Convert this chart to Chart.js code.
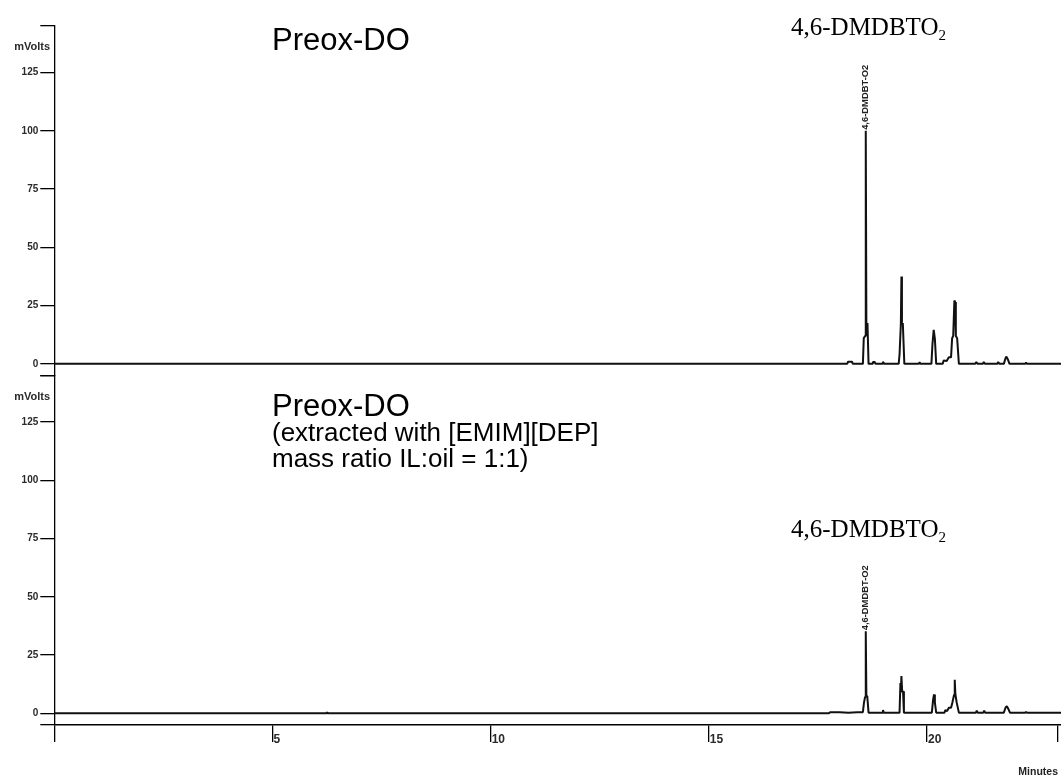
<!DOCTYPE html>
<html>
<head>
<meta charset="utf-8">
<script src="https://cdn.jsdelivr.net/npm/chart.js@4"></script>
<style>
  html, body { margin: 0; padding: 0; background: #fff; }
  #wrap { position: relative; width: 1061px; height: 776px; }
  .t { position: absolute; white-space: nowrap; color: #000; }
  .sans { font-family: "Liberation Sans", Arial, sans-serif; }
  .serif { font-family: "Liberation Serif", "Times New Roman", serif; }
  sub { font-size: 15px; vertical-align: -5px; line-height: 0; }
</style>
</head>
<body>
<div id="wrap">
  <canvas id="c"></canvas>
  <div class="t sans" style="left:272px;top:22px;font-size:31px;">Preox-DO</div>
  <div class="t sans" style="left:272px;top:389px;font-size:31px;line-height:34px;">Preox-DO</div>
  <div class="t sans" style="left:272px;top:419px;font-size:26px;line-height:26.3px;">(extracted with [EMIM][DEP]<br>mass ratio IL:oil = 1:1)</div>
  <div class="t serif" style="left:791px;top:14px;font-size:25px;line-height:25px;">4,6-DMDBTO<sub>2</sub></div>
  <div class="t serif" style="left:791px;top:516px;font-size:25px;line-height:25px;">4,6-DMDBTO<sub>2</sub></div>
  <div class="t sans" style="right:3px;top:765px;font-size:10.5px;font-weight:bold;color:#222;">Minutes</div>
</div>
<script>
// ---- data (retention time in minutes, signal in mVolts) ----
const topTimes  = [0, 18.17, 18.19, 18.28, 18.30, 18.53, 18.55, 18.58, 18.596, 18.61, 18.635, 18.66,
  18.74, 18.76, 18.80, 18.82, 18.97, 18.99, 19.02, 19.35, 19.37, 19.40, 19.413, 19.425, 19.445, 19.48,
  19.81, 19.83, 19.85, 20.10, 20.125, 20.153, 20.18, 20.21, 20.36, 20.38, 20.45, 20.50, 20.55,
  20.575, 20.60, 20.627, 20.645, 20.66, 20.69, 20.73, 21.10, 21.13, 21.16, 21.28, 21.30, 21.33,
  21.61, 21.63, 21.66, 21.76, 21.80, 21.82, 21.85, 21.89, 22.25, 22.27, 22.29, 23.07];
const topValues = [0, 0, 0.9, 0.9, 0, 0, 11, 12, 100, 16, 17.5, 0,
  0, 0.8, 0.8, 0, 0, 0.9, 0, 0, 4, 17, 37.5, 17, 17.5, 0,
  0, 0.7, 0, 0, 8.6, 14.6, 10.7, 0, 0, 1.4, 1.2, 2.8, 2.8,
  11, 12, 27.2, 26.5, 12, 11, 0, 0, 0.8, 0, 0, 0.8, 0,
  0, 0.8, 0, 0, 2.5, 3.1, 2, 0, 0, 0.5, 0, 0];

const botTimes  = [0, 6.24, 6.25, 6.26, 17.75, 17.78, 18.0, 18.2, 18.4, 18.53, 18.555, 18.58, 18.596, 18.61, 18.63, 18.66,
  18.98, 18.99, 19.01, 19.37, 19.39, 19.40, 19.413, 19.43, 19.45, 19.47,
  20.11, 20.14, 20.16, 20.18, 20.21, 20.40, 20.42, 20.46, 20.50, 20.55, 20.58, 20.62, 20.635, 20.65, 20.68, 20.73,
  21.12, 21.14, 21.16, 21.29, 21.31, 21.33, 21.76, 21.80, 21.83, 21.86, 21.90, 22.25, 22.27, 22.29, 23.07];
const botValues = [0, 0, 0.6, 0, 0, 0.5, 0.5, 0.3, 0.5, 0.5, 4.6, 7, 35.2, 7.4, 7.4, 0.3,
  0.3, 1.4, 0.3, 0.3, 13, 9, 16, 9.5, 9.5, 0.3,
  0.3, 6, 8.1, 4.6, 0.3, 0.3, 1.4, 1, 2.4, 2.4, 4.6, 8, 14.4, 8.1, 4.6, 0.3,
  0.3, 1.2, 0.3, 0.3, 1.2, 0.3, 0.3, 2.5, 3.1, 2, 0.3, 0.3, 0.6, 0.3, 0.3];

const yTickValues = [0, 25, 50, 75, 100, 125];
const xTickValues = [0, 5, 10, 15, 20, 23];
const xLabelValues = [5, 10, 15, 20];
const peakLabel = "4,6-DMDBT-O2";
const yMin = -5, yMax = 145, xMin = 0, xMax = 23.07;

const toPoints = (ts, vs) => ts.map((t, i) => ({x: t, y: vs[i]}));

const tickFont = {family: "Liberation Sans", size: 10, weight: "bold"};

function yScale() {
  return {
    type: 'linear', position: 'left', stack: 'panels', stackWeight: 1,
    min: yMin, max: yMax,
    afterBuildTicks: s => { s.ticks = [yMin, ...yTickValues, yMax].map(v => ({value: v})); },
    afterFit: s => { s.width = 54.3; },
    ticks: {
      autoSkip: false, color: '#2a2a2a', font: tickFont, padding: 2,
      callback: v => yTickValues.includes(v) ? String(v) : ''
    },
    grid: {drawOnChartArea: false, drawTicks: true, tickLength: 14, color: '#000', lineWidth: 1.3},
    border: {display: true, color: '#000', width: 1.3}
  };
}

const annot = {
  id: 'annot',
  afterDatasetsDraw(chart) {
    const ctx = chart.ctx;
    ctx.save();
    ctx.font = "bold 11px 'Liberation Sans'";
    ctx.fillStyle = '#2a2a2a';
    ctx.textAlign = 'right';
    ctx.textBaseline = 'middle';
    ['yTop', 'yBot'].forEach(id => {
      const s = chart.scales[id];
      ctx.fillText('mVolts', 50, s.top + 21);
    });
    chart.data.datasets.forEach(ds => {
      let best = 0;
      ds.data.forEach((p, i) => { if (p.y > ds.data[best].y) best = i; });
      const xs = chart.scales.x, ys = chart.scales[ds.yAxisID];
      const px = xs.getPixelForValue(ds.data[best].x);
      const py = ys.getPixelForValue(ds.data[best].y);
      ctx.save();
      ctx.translate(px, py - 1);
      ctx.rotate(-Math.PI / 2);
      ctx.font = "bold 9.4px 'Liberation Sans'";
      ctx.fillStyle = '#222';
      ctx.textAlign = 'left';
      ctx.textBaseline = 'middle';
      ctx.fillText(peakLabel, 0, 0);
      ctx.restore();
    });
    ctx.restore();
  }
};

new Chart(document.getElementById('c'), {
  type: 'line',
  data: {
    datasets: [
      {data: toPoints(topTimes, topValues), yAxisID: 'yTop', xAxisID: 'x'},
      {data: toPoints(botTimes, botValues), yAxisID: 'yBot', xAxisID: 'x'}
    ]
  },
  options: {
    responsive: true, maintainAspectRatio: false, animation: false,
    devicePixelRatio: 1,
    layout: {padding: {top: 26, left: 0, right: 0, bottom: 0}},
    elements: {
      line: {borderColor: '#111', borderWidth: 2, tension: 0, borderJoinStyle: 'bevel'},
      point: {radius: 0}
    },
    plugins: {legend: {display: false}, tooltip: {enabled: false}},
    scales: {
      yBot: yScale(),
      yTop: yScale(),
      x: {
        type: 'linear', position: 'bottom', min: xMin, max: xMax,
        afterBuildTicks: s => { s.ticks = xTickValues.map(v => ({value: v})); },
        afterFit: s => { s.height = 51; },
        ticks: {
          autoSkip: false, maxRotation: 0, align: 'start', padding: -10, labelOffset: 1,
          color: '#2a2a2a', font: {family: "Liberation Sans", size: 12, weight: 'bold'},
          callback: v => xLabelValues.includes(v) ? String(v) : ''
        },
        grid: {drawOnChartArea: false, drawTicks: true, tickLength: 17, color: '#000', lineWidth: 1.3},
        border: {display: true, color: '#000', width: 1.5}
      }
    }
  },
  plugins: [annot]
});
</script>
</body>
</html>
